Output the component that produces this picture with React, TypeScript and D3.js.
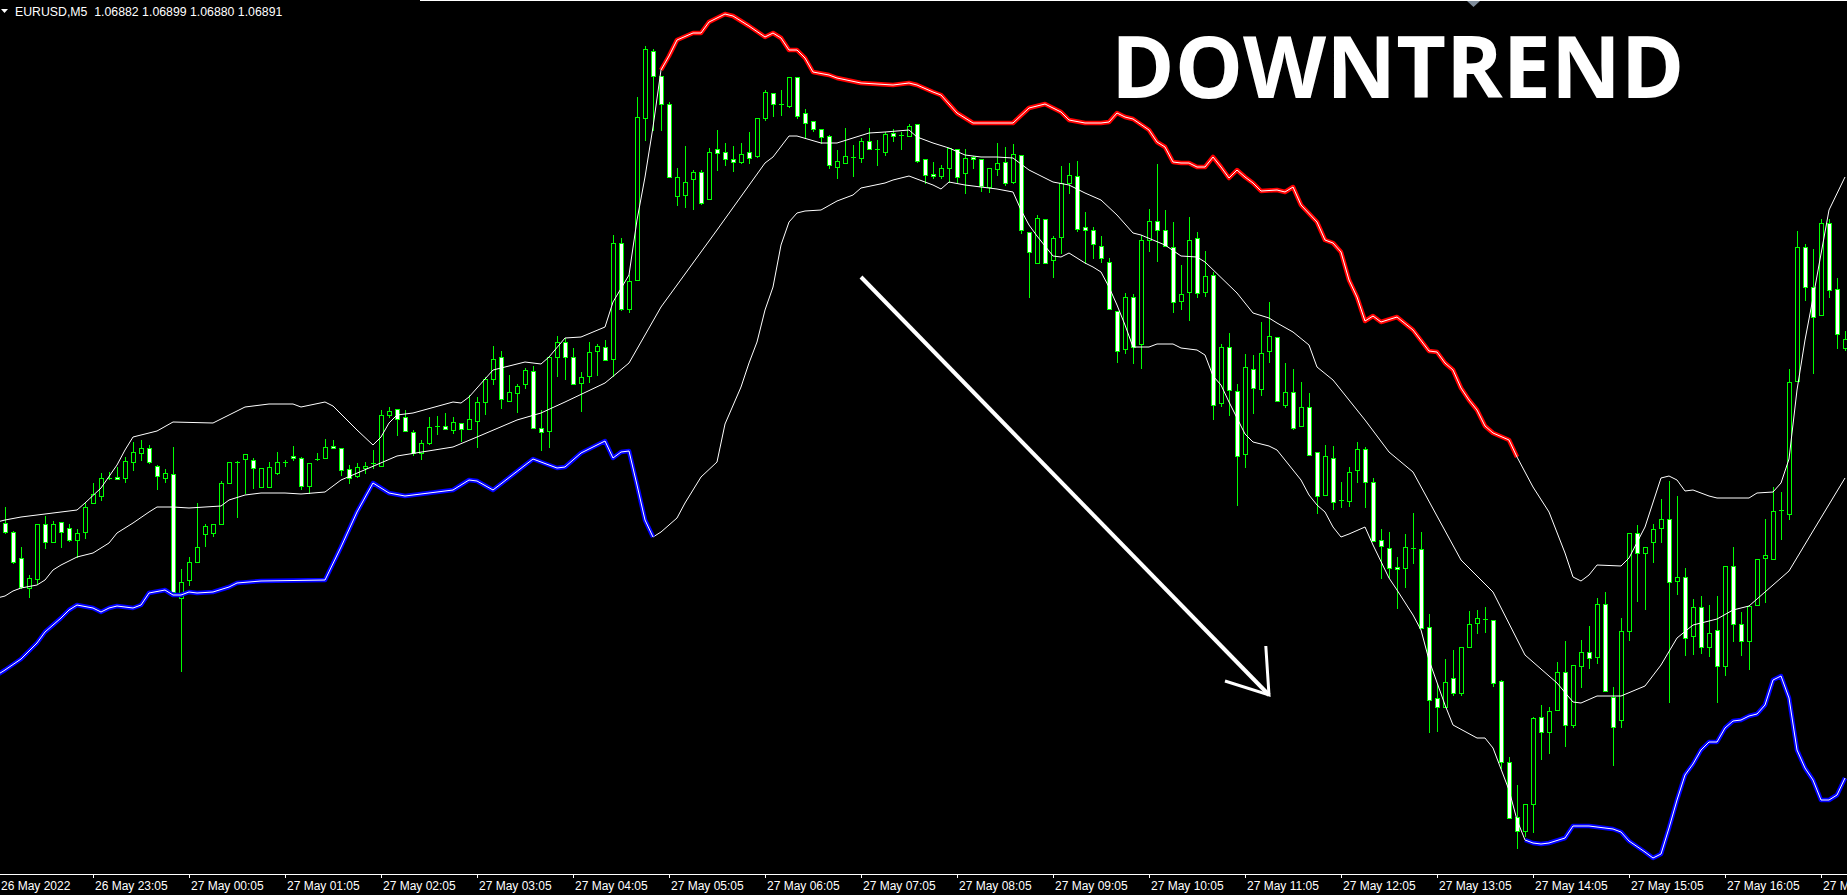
import React from "react";
import * as d3 from "d3";

const WIDTH = 1847;
const HEIGHT = 895;
const AXIS_Y = 874;

const headerText = "EURUSD,M5  1.06882 1.06899 1.06880 1.06891";
const titleText = "DOWNTREND";
const firstDateLabel = "26 May 2022";
const timeLabels = [
  "26 May 23:05", "27 May 00:05", "27 May 01:05", "27 May 02:05", "27 May 03:05",
  "27 May 04:05", "27 May 05:05", "27 May 06:05", "27 May 07:05", "27 May 08:05",
  "27 May 09:05", "27 May 10:05", "27 May 11:05", "27 May 12:05", "27 May 13:05",
  "27 May 14:05", "27 May 15:05", "27 May 16:05", "27 May 17:05",
];
const timeLabelBars = [11, 23, 35, 47, 59, 71, 83, 95, 107, 119, 131, 143, 155, 167, 179, 191, 203, 215, 227];

const openPrices = [
  1.06707,1.06698,1.06672,1.06642,1.06651,1.06706,1.06688,1.06708,1.06702,1.06690,
  1.06698,1.06727,1.06734,1.06751,1.06753,1.06752,1.06768,1.06777,1.06782,1.06764,
  1.06752,1.06756,1.06632,1.06650,1.06668,1.06696,1.06697,1.06706,1.06747,1.06767,
  1.06771,1.06770,1.06743,1.06743,1.06757,1.06768,1.06774,1.06772,1.06744,1.06771,
  1.06772,1.06784,1.06782,1.06761,1.06754,1.06762,1.06767,1.06764,1.06815,1.06821,
  1.06813,1.06798,1.06777,1.06787,1.06803,1.06804,1.06800,1.06807,1.06801,1.06809,
  1.06828,1.06851,1.06873,1.06829,1.06837,1.06846,1.06859,1.06802,1.06799,1.06873,
  1.06888,1.06873,1.06847,1.06854,1.06879,1.06883,1.06871,1.06987,1.06921,1.06950,
  1.07112,1.07179,1.07154,1.07126,1.07034,1.07035,1.07051,1.07058,1.07031,1.07081,
  1.07078,1.07071,1.07068,1.07078,1.07074,1.07112,1.07137,1.07126,1.07124,1.07153,
  1.07117,1.07109,1.07101,1.07094,1.07063,1.07067,1.07073,1.07072,1.07089,1.07081,
  1.07078,1.07097,1.07095,1.07094,1.07106,1.07071,1.07056,1.07054,1.07062,1.07081,
  1.07057,1.07073,1.07071,1.07043,1.07061,1.07068,1.07048,1.07075,1.06998,1.06967,
  1.07011,1.06970,1.06993,1.07047,1.07054,1.07003,1.07000,1.06984,1.06968,1.06919,
  1.06881,1.06933,1.06886,1.06990,1.07009,1.07000,1.06983,1.06929,1.06938,1.06992,
  1.06938,1.06955,1.06827,1.06883,1.06839,1.06776,1.06861,1.06841,1.06879,1.06893,
  1.06825,1.06838,1.06804,1.06823,1.06778,1.06735,1.06772,1.06730,1.06729,1.06760,
  1.06781,1.06748,1.06690,1.06682,1.06663,1.06662,1.06682,1.06681,1.06603,1.06532,
  1.06523,1.06552,1.06537,1.06583,1.06607,1.06611,1.06610,1.06549,1.06468,1.06413,
  1.06399,1.06426,1.06513,1.06498,1.06520,1.06558,1.06505,1.06564,1.06578,1.06573,
  1.06626,1.06533,1.06510,1.06599,1.06697,1.06677,1.06688,1.06702,1.06711,1.06649,
  1.06653,1.06594,1.06623,1.06583,1.06600,1.06564,1.06664,1.06606,1.06589,1.06625,
  1.06672,1.06671,1.06719,1.06716,1.06849,1.06983,1.06943,1.06915,1.07007,1.06941,
  1.06882,
];

const highPrices = [
  1.06723,1.06699,1.06683,1.06655,1.06706,1.06714,1.06709,1.06708,1.06706,1.06701,
  1.06727,1.06747,1.06757,1.06758,1.06763,1.06773,1.06788,1.06790,1.06785,1.06765,
  1.06761,1.06783,1.06661,1.06673,1.06727,1.06706,1.06706,1.06749,1.06768,1.06769,
  1.06776,1.06772,1.06762,1.06768,1.06778,1.06770,1.06784,1.06773,1.06767,1.06777,
  1.06791,1.06790,1.06782,1.06765,1.06767,1.06768,1.06780,1.06820,1.06823,1.06821,
  1.06820,1.06800,1.06790,1.06813,1.06814,1.06817,1.06813,1.06807,1.06835,1.06833,
  1.06853,1.06884,1.06879,1.06855,1.06846,1.06862,1.06864,1.06820,1.06873,1.06894,
  1.06892,1.06882,1.06858,1.06888,1.06886,1.06890,1.06995,1.06992,1.06955,1.07133,
  1.07184,1.07181,1.07154,1.07128,1.07062,1.07084,1.07060,1.07060,1.07082,1.07100,
  1.07087,1.07084,1.07087,1.07098,1.07112,1.07140,1.07137,1.07140,1.07153,1.07153,
  1.07121,1.07109,1.07101,1.07095,1.07080,1.07102,1.07085,1.07092,1.07102,1.07090,
  1.07098,1.07101,1.07098,1.07106,1.07106,1.07071,1.07068,1.07065,1.07082,1.07081,
  1.07081,1.07074,1.07071,1.07062,1.07087,1.07083,1.07086,1.07075,1.06998,1.07015,
  1.07011,1.06994,1.07064,1.07067,1.07069,1.07018,1.07003,1.06994,1.06972,1.06919,
  1.06937,1.06936,1.06995,1.07021,1.07066,1.07020,1.07008,1.06965,1.07013,1.06998,
  1.06979,1.06958,1.06886,1.06897,1.06846,1.06876,1.06875,1.06908,1.06928,1.06893,
  1.06867,1.06861,1.06848,1.06837,1.06778,1.06785,1.06784,1.06748,1.06763,1.06788,
  1.06783,1.06752,1.06701,1.06698,1.06673,1.06696,1.06717,1.06698,1.06616,1.06546,
  1.06571,1.06580,1.06583,1.06619,1.06620,1.06623,1.06610,1.06550,1.06473,1.06445,
  1.06426,1.06513,1.06525,1.06523,1.06568,1.06589,1.06565,1.06590,1.06604,1.06632,
  1.06638,1.06543,1.06612,1.06697,1.06705,1.06683,1.06706,1.06731,1.06749,1.06734,
  1.06662,1.06631,1.06634,1.06625,1.06634,1.06664,1.06683,1.06618,1.06624,1.06671,
  1.06711,1.06743,1.06738,1.06861,1.06999,1.06986,1.06981,1.07011,1.07011,1.06952,
  1.06899,
];

const lowPrices = [
  1.06697,1.06667,1.06642,1.06633,1.06647,1.06682,1.06688,1.06683,1.06689,1.06673,
  1.06692,1.06727,1.06730,1.06751,1.06751,1.06748,1.06760,1.06770,1.06767,1.06741,
  1.06748,1.06638,1.06559,1.06645,1.06668,1.06684,1.06694,1.06706,1.06747,1.06713,
  1.06737,1.06742,1.06743,1.06743,1.06756,1.06764,1.06770,1.06741,1.06737,1.06770,
  1.06772,1.06782,1.06755,1.06747,1.06753,1.06757,1.06762,1.06764,1.06813,1.06795,
  1.06799,1.06775,1.06771,1.06786,1.06796,1.06801,1.06797,1.06789,1.06801,1.06783,
  1.06816,1.06846,1.06822,1.06829,1.06818,1.06842,1.06802,1.06780,1.06783,1.06854,
  1.06851,1.06846,1.06819,1.06848,1.06855,1.06870,1.06854,1.06920,1.06918,1.06950,
  1.07090,1.07100,1.07100,1.07053,1.07025,1.07023,1.07021,1.07026,1.07031,1.07060,
  1.07065,1.07059,1.07067,1.07067,1.07073,1.07110,1.07114,1.07115,1.07123,1.07112,
  1.07093,1.07099,1.07087,1.07062,1.07052,1.07067,1.07054,1.07068,1.07081,1.07065,
  1.07075,1.07089,1.07081,1.07094,1.07068,1.07047,1.07052,1.07052,1.07048,1.07048,
  1.07037,1.07062,1.07039,1.07038,1.07055,1.07045,1.07047,1.06997,1.06933,1.06967,
  1.06967,1.06953,1.06977,1.07037,1.06999,1.06967,1.06972,1.06968,1.06921,1.06868,
  1.06877,1.06867,1.06862,1.06979,1.06969,1.06984,1.06918,1.06921,1.06910,1.06933,
  1.06934,1.06811,1.06824,1.06815,1.06725,1.06763,1.06817,1.06835,1.06868,1.06829,
  1.06823,1.06801,1.06804,1.06775,1.06717,1.06735,1.06721,1.06723,1.06724,1.06748,
  1.06723,1.06689,1.06652,1.06653,1.06622,1.06643,1.06667,1.06602,1.06498,1.06499,
  1.06523,1.06535,1.06535,1.06583,1.06597,1.06598,1.06544,1.06462,1.06412,1.06382,
  1.06394,1.06398,1.06471,1.06477,1.06520,1.06484,1.06503,1.06543,1.06562,1.06567,
  1.06539,1.06465,1.06503,1.06590,1.06629,1.06621,1.06668,1.06688,1.06528,1.06636,
  1.06575,1.06576,1.06577,1.06574,1.06528,1.06555,1.06589,1.06575,1.06561,1.06625,
  1.06628,1.06671,1.06691,1.06711,1.06849,1.06930,1.06857,1.06915,1.06933,1.06882,
  1.06880,
];

const closePrices = [
  1.06698,1.06668,1.06643,1.06652,1.06706,1.06688,1.06706,1.06698,1.06690,1.06697,
  1.06723,1.06736,1.06752,1.06752,1.06751,1.06769,1.06778,1.06782,1.06768,1.06754,
  1.06757,1.06638,1.06648,1.06668,1.06683,1.06704,1.06706,1.06747,1.06768,1.06768,
  1.06776,1.06762,1.06762,1.06763,1.06768,1.06767,1.06772,1.06744,1.06767,1.06771,
  1.06783,1.06782,1.06760,1.06752,1.06763,1.06764,1.06767,1.06815,1.06819,1.06811,
  1.06799,1.06777,1.06787,1.06803,1.06804,1.06801,1.06808,1.06801,1.06811,1.06828,
  1.06851,1.06871,1.06831,1.06838,1.06844,1.06860,1.06802,1.06798,1.06873,1.06888,
  1.06873,1.06846,1.06853,1.06878,1.06884,1.06870,1.06987,1.06921,1.06949,1.07113,
  1.07181,1.07154,1.07126,1.07053,1.07053,1.07048,1.07058,1.07027,1.07078,1.07077,
  1.07071,1.07068,1.07076,1.07072,1.07112,1.07138,1.07126,1.07125,1.07153,1.07114,
  1.07107,1.07101,1.07093,1.07065,1.07069,1.07074,1.07073,1.07089,1.07081,1.07081,
  1.07096,1.07094,1.07095,1.07104,1.07069,1.07055,1.07054,1.07062,1.07082,1.07053,
  1.07072,1.07071,1.07044,1.07062,1.07067,1.07047,1.07076,1.07000,1.06978,1.07012,
  1.06967,1.06992,1.07047,1.07055,1.07001,1.07000,1.06986,1.06972,1.06921,1.06879,
  1.06933,1.06883,1.06990,1.07009,1.07000,1.06984,1.06928,1.06936,1.06990,1.06937,
  1.06954,1.06825,1.06883,1.06840,1.06774,1.06863,1.06842,1.06877,1.06894,1.06829,
  1.06838,1.06802,1.06823,1.06775,1.06734,1.06774,1.06728,1.06730,1.06758,1.06781,
  1.06748,1.06689,1.06684,1.06662,1.06661,1.06683,1.06682,1.06602,1.06530,1.06523,
  1.06548,1.06537,1.06583,1.06606,1.06612,1.06610,1.06547,1.06468,1.06412,1.06399,
  1.06426,1.06512,1.06498,1.06519,1.06558,1.06505,1.06565,1.06578,1.06572,1.06626,
  1.06539,1.06503,1.06599,1.06697,1.06677,1.06683,1.06701,1.06711,1.06648,1.06653,
  1.06592,1.06623,1.06583,1.06597,1.06564,1.06664,1.06606,1.06589,1.06624,1.06671,
  1.06675,1.06719,1.06720,1.06848,1.06983,1.06943,1.06913,1.07007,1.06940,1.06896,
  1.06891,
];

// Band lines: [bar index, price]
const upperBand: [number, number][] = [
  [-1,1.06708],[0,1.06710],[2,1.06713],[6,1.06717],[9,1.06720],[10,1.06727],[12,1.06742],[14,1.06765],
  [15,1.06780],[16,1.06793],[19,1.06799],[21,1.06808],[26,1.06807],[28,1.06815],[30,1.06823],[33,1.06826],
  [36,1.06826],[37,1.06823],[40,1.06828],[41,1.06824],[44,1.06800],[46,1.06785],[47,1.06793],[48,1.06807],
  [49,1.06815],[51,1.06817],[56,1.06828],[57,1.06827],[58,1.06833],[61,1.06860],[65,1.06868],[67,1.06866],
  [68,1.06873],[70,1.06892],[72,1.06893],[75,1.06903],[76,1.06928],[78,1.06955],[79,1.07010],[80,1.07053],
  [81,1.07103],[82,1.07160],[83,1.07174],[84,1.07190],[86,1.07197],[87,1.07197],[88,1.07208],[90,1.07216],
  [91,1.07214],[93,1.07204],[95,1.07193],[96,1.07197],[97,1.07192],[98,1.07180],[99,1.07180],[100,1.07172],
  [101,1.07158],[103,1.07155],[104,1.07152],[107,1.07147],[111,1.07145],[113,1.07147],[114,1.07145],[116,1.07138],
  [117,1.07135],[119,1.07117],[120,1.07112],[121,1.07107],[124,1.07107],[126,1.07107],[128,1.07122],[130,1.07126],
  [132,1.07118],[133,1.07110],[135,1.07107],[137,1.07107],[138,1.07108],[139,1.07117],[140,1.07113],[141,1.07111],
  [143,1.07100],[144,1.07088],[145,1.07083],[146,1.07068],[147,1.07067],[148,1.07067],[149,1.07063],[150,1.07063],
  [151,1.07073],[152,1.07063],[153,1.07052],[154,1.07060],[155,1.07053],[156,1.07047],[157,1.07039],[159,1.07040],
  [160,1.07038],[161,1.07043],[162,1.07025],[164,1.07008],[165,1.06990],[166,1.06987],[167,1.06978],[168,1.06950],
  [169,1.06933],[170,1.06909],[171,1.06914],[172,1.06908],[174,1.06913],[176,1.06900],[178,1.06879],[179,1.06878],
  [180,1.06867],[181,1.06860],[182,1.06842],[183,1.06830],[184,1.06820],[185,1.06804],[186,1.06797],[188,1.06790],
  [189,1.06773],[191,1.06743],[193,1.06718],[195,1.06677],[196,1.06653],[197,1.06649],[198,1.06655],[199,1.06665],
  [202,1.06664],[203,1.06672],[205,1.06703],[207,1.06752],[208,1.06754],[209,1.06750],[210,1.06739],[211,1.06740],
  [213,1.06734],[214,1.06732],[218,1.06732],[219,1.06737],[221,1.06738],[222,1.06747],[223,1.06771],[224,1.06840],
  [225,1.06890],[226,1.06932],[228,1.07020],[230,1.07053],
];

const middleBand: [number, number][] = [
  [-1,1.06632],[0,1.06634],[1,1.06639],[2,1.06642],[4,1.06645],[5,1.06650],[6,1.06660],[7,1.06665],
  [9,1.06673],[11,1.06677],[13,1.06687],[14,1.06697],[16,1.06707],[18,1.06718],[19,1.06723],[21,1.06723],
  [23,1.06722],[27,1.06724],[28,1.06730],[30,1.06735],[32,1.06737],[35,1.06737],[37,1.06736],[40,1.06738],
  [42,1.06750],[49,1.06774],[56,1.06783],[59,1.06793],[64,1.06810],[67,1.06817],[70,1.06828],[75,1.06847],
  [78,1.06867],[82,1.06923],[89,1.07000],[95,1.07067],[96,1.07073],[98,1.07094],[99,1.07094],[102,1.07087],
  [104,1.07087],[106,1.07092],[108,1.07097],[110,1.07098],[113,1.07100],[114,1.07093],[116,1.07087],[118,1.07082],
  [120,1.07075],[122,1.07073],[124,1.07073],[126,1.07072],[128,1.07060],[131,1.07048],[133,1.07045],[135,1.07037],
  [137,1.07030],[139,1.07015],[141,1.06997],[142,1.06995],[145,1.06985],[147,1.06974],[149,1.06973],[150,1.06968],
  [154,1.06937],[156,1.06917],[158,1.06912],[159,1.06907],[161,1.06898],[163,1.06885],[164,1.06863],[166,1.06850],
  [170,1.06810],[173,1.06778],[176,1.06758],[182,1.06670],[186,1.06638],[190,1.06575],[194,1.06547],[196,1.06528],
  [197,1.06527],[199,1.06534],[202,1.06534],[205,1.06544],[207,1.06565],[209,1.06592],[211,1.06605],[214,1.06611],
  [216,1.06620],[218,1.06624],[221,1.06645],[223,1.06659],[226,1.06699],[230,1.06752],
];

const lowerBand: [number, number][] = [
  [-1,1.06555],[0,1.06560],[2,1.06571],[4,1.06587],[5,1.06598],[7,1.06612],[8,1.06620],[9,1.06625],
  [11,1.06622],[12,1.06618],[13,1.06622],[14,1.06624],[16,1.06622],[17,1.06625],[18,1.06637],[20,1.06640],
  [21,1.06635],[22,1.06635],[23,1.06638],[24,1.06637],[26,1.06638],[28,1.06643],[29,1.06647],[32,1.06649],
  [40,1.06650],[42,1.06683],[44,1.06718],[46,1.06747],[48,1.06737],[50,1.06734],[56,1.06740],[58,1.06750],
  [59,1.06749],[61,1.06740],[66,1.06771],[69,1.06762],[70,1.06763],[72,1.06777],[75,1.06789],[76,1.06772],
  [77,1.06778],[78,1.06779],[79,1.06745],[80,1.06710],[81,1.06693],[82,1.06698],[84,1.06712],[85,1.06727],
  [87,1.06753],[89,1.06768],[90,1.06806],[92,1.06843],[93,1.06867],[94,1.06888],[95,1.06920],[96,1.06943],
  [97,1.06985],[98,1.07008],[99,1.07017],[100,1.07019],[102,1.07020],[104,1.07029],[106,1.07035],[107,1.07042],
  [110,1.07047],[111,1.07050],[113,1.07054],[114,1.07051],[116,1.07045],[117,1.07041],[118,1.07048],[120,1.07045],
  [122,1.07043],[124,1.07041],[126,1.07038],[127,1.07020],[128,1.07005],[129,1.06994],[131,1.06974],[132,1.06973],
  [133,1.06977],[135,1.06967],[136,1.06963],[137,1.06958],[138,1.06943],[139,1.06925],[140,1.06905],[141,1.06883],
  [143,1.06883],[144,1.06886],[146,1.06886],[147,1.06882],[149,1.06880],[150,1.06875],[151,1.06854],[152,1.06845],
  [153,1.06828],[154,1.06812],[155,1.06796],[156,1.06788],[158,1.06784],[159,1.06780],[160,1.06770],[162,1.06750],
  [163,1.06735],[164,1.06725],[165,1.06718],[166,1.06703],[167,1.06693],[168,1.06696],[170,1.06703],[171,1.06685],
  [173,1.06652],[174,1.06640],[176,1.06615],[177,1.06600],[178,1.06570],[180,1.06525],[181,1.06505],[184,1.06492],
  [185,1.06492],[186,1.06482],[188,1.06440],[189,1.06410],[190,1.06390],[191,1.06387],[192,1.06386],[193,1.06387],
  [195,1.06392],[196,1.06404],[198,1.06404],[199,1.06403],[201,1.06401],[202,1.06398],[203,1.06389],[205,1.06378],
  [206,1.06372],[207,1.06376],[208,1.06402],[209,1.06430],[210,1.06455],[211,1.06466],[212,1.06480],[213,1.06488],
  [214,1.06488],[215,1.06502],[216,1.06509],[217,1.06510],[218,1.06514],[219,1.06516],[220,1.06525],[221,1.06550],
  [222,1.06554],[223,1.06532],[224,1.06480],[225,1.06462],[226,1.06450],[227,1.06430],[228,1.06430],[229,1.06435],
  [230,1.06452],
];

// trend colouring ranges (bar indices)
const downTrendBars = [82, 189];
const upTrendBarsLeft = [-1, 81];
const upTrendBarsRight = [190, 230];

// hand-drawn arrow annotation: [bar, price]
const arrowShaft: [number, number][] = [[107, 1.06953], [158, 1.06535]];
const arrowHead: [number, number][] = [[157.6, 1.06584], [158, 1.06535], [152.5, 1.06549]];

export default function App() {
  const x = d3.scaleLinear().domain([0, 230]).range([5, 1845]);
  const y = d3.scaleLinear().domain([1.06356, 1.0723]).range([AXIS_Y, 0]);
  const line = d3
    .line<[number, number]>()
    .x((d) => x(d[0]))
    .y((d) => y(d[1]))
    .curve(d3.curveLinear);

  const inRange = (r: number[]) => (d: [number, number]) => d[0] >= r[0] && d[0] <= r[1];

  const candles = openPrices.map((o, i) => {
    const c = closePrices[i];
    const h = highPrices[i];
    const l = lowPrices[i];
    const cx = Math.round(x(i));
    const yo = Math.round(y(o));
    const yc = Math.round(y(c));
    const yh = Math.round(y(h));
    const yl = Math.round(y(l));
    const top = Math.min(yo, yc);
    const bot = Math.max(yo, yc);
    const bear = c < o;
    return (
      <g key={i}>
        <line x1={cx + 0.5} x2={cx + 0.5} y1={yh} y2={yl + 1} stroke="#00ff00" strokeWidth={1} />
        {bot - top < 2 ? (
          <line x1={cx - 2} x2={cx + 3} y1={top + 0.5} y2={top + 0.5} stroke="#00ff00" strokeWidth={1} />
        ) : (
          <rect
            x={cx - 1.5}
            y={top + 0.5}
            width={4}
            height={bot - top}
            fill={bear ? "#ffffff" : "#000000"}
            stroke="#00ff00"
            strokeWidth={1}
          />
        )}
      </g>
    );
  });

  const thin = (d: [number, number][], key: string) => (
    <path key={key} d={line(d) || ""} fill="none" stroke="#ffffff" strokeWidth={1} />
  );
  const thick = (d: [number, number][], color: string, key: string) => (
    <g key={key}>
      <path d={line(d) || ""} fill="none" stroke={color} strokeWidth={4.5} strokeLinejoin="round" />
      <path d={line(d) || ""} fill="none" stroke="#ffffff" strokeWidth={1} />
    </g>
  );

  return (
    <svg
      width={WIDTH}
      height={HEIGHT}
      style={{ position: "absolute", left: 0, top: 0, display: "block", background: "#000" }}
    >
      <rect x={0} y={0} width={WIDTH} height={HEIGHT} fill="#000" />
      {/* top frame line and shift marker */}
      <line x1={420} x2={WIDTH} y1={0.5} y2={0.5} stroke="#ffffff" strokeWidth={1} />
      <polygon points="1467,1 1480,1 1473.5,7" fill="#7f8c9a" />

      <g>{candles}</g>

      {thin(upperBand, "u")}
      {thin(middleBand, "m")}
      {thin(lowerBand, "l")}
      {thick(upperBand.filter(inRange(downTrendBars)), "#ff0000", "red")}
      {thick(lowerBand.filter(inRange(upTrendBarsLeft)), "#0000ff", "blueL")}
      {thick(lowerBand.filter(inRange(upTrendBarsRight)), "#0000ff", "blueR")}

      {/* arrow */}
      <path d={line(arrowShaft) || ""} fill="none" stroke="#ffffff" strokeWidth={4} />
      <path d={line(arrowHead) || ""} fill="none" stroke="#ffffff" strokeWidth={3} strokeLinejoin="miter" />

      <text
        x={1111}
        y={98}
        fill="#ffffff"
        fontFamily="'Open Sans', 'Noto Sans', sans-serif"
        fontWeight={700}
        fontSize={86}
      >
        {titleText}
      </text>

      {/* header */}
      <polygon points="1,9 8,9 4.5,13" fill="#ffffff" />
      <text x={15} y={16} fill="#ffffff" fontFamily="'Liberation Sans', Arial, sans-serif" fontSize={12.3} xmlSpace="preserve">
        {headerText}
      </text>

      {/* time axis */}
      <line x1={0} x2={WIDTH} y1={AXIS_Y + 0.5} y2={AXIS_Y + 0.5} stroke="#ffffff" strokeWidth={1} />
      <text x={1} y={890} fill="#ffffff" fontFamily="'Liberation Sans', Arial, sans-serif" fontSize={12}>
        {firstDateLabel}
      </text>
      {timeLabelBars.map((b, k) => {
        const tx = Math.round(x(b));
        return (
          <g key={b}>
            <line x1={tx + 0.5} x2={tx + 0.5} y1={AXIS_Y + 1} y2={AXIS_Y + 4} stroke="#ffffff" strokeWidth={1} />
            <text x={tx + 2} y={890} fill="#ffffff" fontFamily="'Liberation Sans', Arial, sans-serif" fontSize={12}>
              {timeLabels[k]}
            </text>
          </g>
        );
      })}
    </svg>
  );
}
